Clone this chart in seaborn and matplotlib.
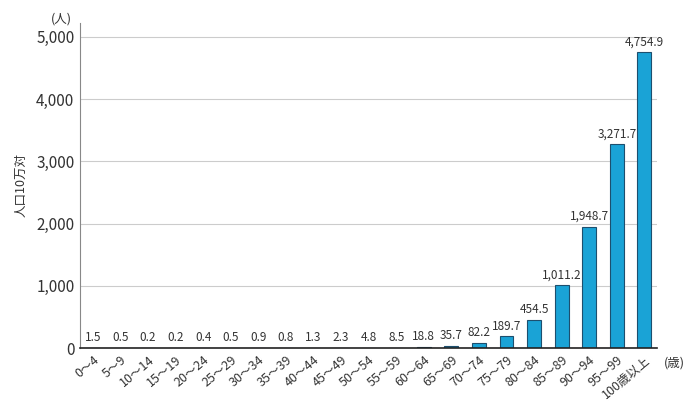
import matplotlib
matplotlib.use("Agg")
import matplotlib.pyplot as plt
import seaborn as sns
import pandas as pd

categories = ["0～4", "5～9", "10～14", "15～19", "20～24", "25～29", "30～34", "35～39",
              "40～44", "45～49", "50～54", "55～59", "60～64", "65～69", "70～74", "75～79",
              "80～84", "85～89", "90～94", "95～99", "100歳以上"]
values = [1.5, 0.5, 0.2, 0.2, 0.4, 0.5, 0.9, 0.8, 1.3, 2.3, 4.8, 8.5, 18.8, 35.7,
          82.2, 189.7, 454.5, 1011.2, 1948.7, 3271.7, 4754.9]
yticks = [0, 1000, 2000, 3000, 4000, 5000]

df = pd.DataFrame({"age": categories, "rate": values})

sns.set_theme(style="white")
plt.rcParams['font.family'] = ['Noto Sans CJK JP', 'DejaVu Sans']

fig = plt.figure(figsize=(6.87, 4.01), dpi=100)
ax = fig.add_axes([0.1164, 0.132, 0.8396, 0.811])

sns.barplot(data=df, x="age", y="rate", color="#1AA3D6", saturation=1, width=0.5,
            edgecolor="#1d4f6e", linewidth=0.8, ax=ax)

ax.set_ylim(0, 5225)
ax.set_xlim(-0.47, 20.45)
ax.set_yticks(yticks)
ax.set_yticklabels([f"{v:,}" for v in yticks], fontsize=11, color="#333333")
ax.yaxis.grid(True, color="#cccccc", linewidth=0.8)
ax.set_axisbelow(True)
ax.tick_params(axis="both", length=0, pad=4)
ax.set_xticks(range(len(categories)))
ax.set_xticklabels(categories, rotation=40, ha="right", rotation_mode="anchor",
                   fontsize=9, color="#333333")
ax.tick_params(axis="x", pad=4)

for s in ["top", "right"]:
    ax.spines[s].set_visible(False)
ax.spines["left"].set_color("#888888")
ax.spines["left"].set_linewidth(0.8)
ax.spines["bottom"].set_color("#222222")
ax.spines["bottom"].set_linewidth(1.2)

ax.set_xlabel("")
ax.set_ylabel("人口10万対", fontsize=9, color="#333333", labelpad=6)

for i, v in enumerate(values):
    ax.text(i, v + 60, f"{v:,.1f}", ha="center", va="bottom", fontsize=8.5,
            color="#333333")

fig.text(0.089, 0.953, "(人)", ha="center", va="center", fontsize=9, color="#333333")
fig.text(0.981, 0.095, "(歳)", ha="center", va="center", fontsize=9, color="#333333")

fig.savefig("out.png", dpi=100)
